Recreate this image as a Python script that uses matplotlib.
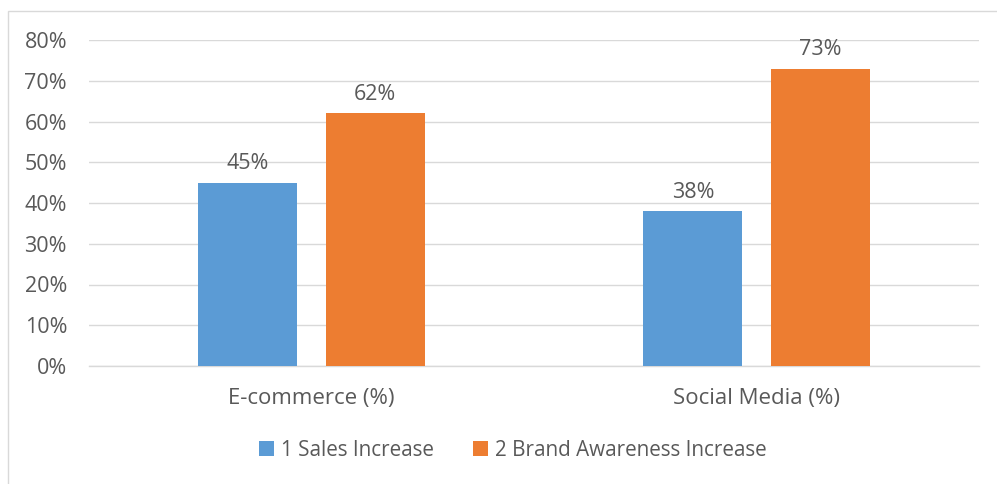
import matplotlib.pyplot as plt
from matplotlib.patches import Rectangle
from matplotlib.ticker import FuncFormatter
import numpy as np

# Data
categories = ['E-commerce (%)', 'Social Media (%)']
series_names = ['1 Sales Increase', '2 Brand Awareness Increase']
sales_increase = [45, 38]
brand_awareness = [62, 73]
yticks = [0, 10, 20, 30, 40, 50, 60, 70, 80]

colors = ['#5B9BD5', '#ED7D31']
text_color = '#595959'
grid_color = '#D9D9D9'

plt.rcParams['font.family'] = ['Open Sans', 'DejaVu Sans']

fig = plt.figure(figsize=(9.97, 4.84), dpi=100)
ax = fig.add_axes([89 / 997, 118 / 484, 890 / 997, 326 / 484])

x = np.arange(len(categories))
width = 0.2225
offset = 0.1428

bars1 = ax.bar(x - offset, sales_increase, width, color=colors[0], label=series_names[0], zorder=3)
bars2 = ax.bar(x + offset, brand_awareness, width, color=colors[1], label=series_names[1], zorder=3)

# value labels above the bars
for bars, vals in [(bars1, sales_increase), (bars2, brand_awareness)]:
    for b, v in zip(bars, vals):
        ax.annotate(f'{v}%', (b.get_x() + b.get_width() / 2, v),
                    xytext=(0, 6), textcoords='offset points',
                    ha='center', va='bottom', fontsize=15.5, color=text_color)

ax.set_xlim(-0.5, 1.5)
ax.set_ylim(0, 80)
ax.set_yticks(yticks)
ax.yaxis.set_major_formatter(FuncFormatter(lambda v, p: f'{v:.0f}%'))
ax.set_xticks(x)
ax.set_xticklabels(categories)

ax.grid(axis='y', color=grid_color, linewidth=1, zorder=0)
for side in ['top', 'right', 'left']:
    ax.spines[side].set_visible(False)
ax.spines['bottom'].set_color(grid_color)
ax.spines['bottom'].set_linewidth(1)
ax.tick_params(axis='y', length=0, labelsize=15.5, colors=text_color, pad=15.8)
ax.tick_params(axis='x', length=0, labelsize=16, colors=text_color, pad=16)

leg = fig.legend(handles=[bars1, bars2], loc='center', bbox_to_anchor=(513 / 997, 1 - 450 / 484),
                 ncol=2, frameon=False, fontsize=14.9, handlelength=0.7, handleheight=0.7,
                 handletextpad=0.35, columnspacing=1.9)
for t in leg.get_texts():
    t.set_color(text_color)

# chart border
fig.patches.append(Rectangle((8 / 997, -0.1), 1.2, 1 - 11 / 484 + 0.1,
                             transform=fig.transFigure, fill=False,
                             edgecolor=grid_color, linewidth=1))

plt.savefig('out.png', dpi=100, facecolor='white')
plt.close()
